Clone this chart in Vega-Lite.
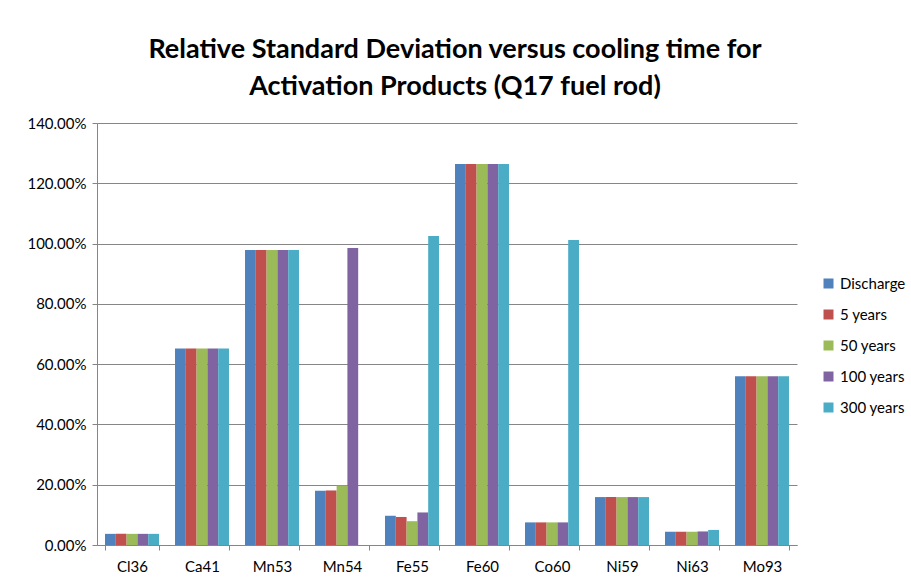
{
  "$schema": "https://vega.github.io/schema/vega-lite/v6.json",
  "width": 700,
  "height": 422,
  "autosize": {"type": "none"},
  "padding": {"left": 97, "top": 123, "right": 114, "bottom": 35},
  "background": "white",
  "title": {
    "text": ["Relative Standard Deviation versus cooling time for", "Activation Products (Q17 fuel rod)"],
    "font": "Lato",
    "fontSize": 27,
    "fontWeight": "bold",
    "color": "#000000",
    "anchor": "middle",
    "lineHeight": 37,
    "offset": 15,
    "dx": 8
  },
  "config": {
    "view": {"stroke": null},
    "font": "Lato",
    "axis": {"labelFont": "Lato", "labelFontSize": 15, "labelColor": "#000000", "domainColor": "#868686", "tickColor": "#868686", "gridColor": "#868686"},
    "legend": {"labelFont": "Lato", "labelFontSize": 15, "labelColor": "#000000"}
  },
  "data": {
    "values": [
      {"nuclide": "Cl36", "time": "Discharge", "rsd": 0.037},
      {"nuclide": "Cl36", "time": "5 years", "rsd": 0.037},
      {"nuclide": "Cl36", "time": "50 years", "rsd": 0.037},
      {"nuclide": "Cl36", "time": "100 years", "rsd": 0.037},
      {"nuclide": "Cl36", "time": "300 years", "rsd": 0.037},
      {"nuclide": "Ca41", "time": "Discharge", "rsd": 0.652},
      {"nuclide": "Ca41", "time": "5 years", "rsd": 0.652},
      {"nuclide": "Ca41", "time": "50 years", "rsd": 0.652},
      {"nuclide": "Ca41", "time": "100 years", "rsd": 0.652},
      {"nuclide": "Ca41", "time": "300 years", "rsd": 0.652},
      {"nuclide": "Mn53", "time": "Discharge", "rsd": 0.979},
      {"nuclide": "Mn53", "time": "5 years", "rsd": 0.979},
      {"nuclide": "Mn53", "time": "50 years", "rsd": 0.979},
      {"nuclide": "Mn53", "time": "100 years", "rsd": 0.979},
      {"nuclide": "Mn53", "time": "300 years", "rsd": 0.979},
      {"nuclide": "Mn54", "time": "Discharge", "rsd": 0.180},
      {"nuclide": "Mn54", "time": "5 years", "rsd": 0.181},
      {"nuclide": "Mn54", "time": "50 years", "rsd": 0.197},
      {"nuclide": "Mn54", "time": "100 years", "rsd": 0.985},
      {"nuclide": "Fe55", "time": "Discharge", "rsd": 0.097},
      {"nuclide": "Fe55", "time": "5 years", "rsd": 0.093},
      {"nuclide": "Fe55", "time": "50 years", "rsd": 0.079},
      {"nuclide": "Fe55", "time": "100 years", "rsd": 0.108},
      {"nuclide": "Fe55", "time": "300 years", "rsd": 1.025},
      {"nuclide": "Fe60", "time": "Discharge", "rsd": 1.264},
      {"nuclide": "Fe60", "time": "5 years", "rsd": 1.264},
      {"nuclide": "Fe60", "time": "50 years", "rsd": 1.264},
      {"nuclide": "Fe60", "time": "100 years", "rsd": 1.264},
      {"nuclide": "Fe60", "time": "300 years", "rsd": 1.264},
      {"nuclide": "Co60", "time": "Discharge", "rsd": 0.075},
      {"nuclide": "Co60", "time": "5 years", "rsd": 0.075},
      {"nuclide": "Co60", "time": "50 years", "rsd": 0.075},
      {"nuclide": "Co60", "time": "100 years", "rsd": 0.075},
      {"nuclide": "Co60", "time": "300 years", "rsd": 1.012},
      {"nuclide": "Ni59", "time": "Discharge", "rsd": 0.159},
      {"nuclide": "Ni59", "time": "5 years", "rsd": 0.159},
      {"nuclide": "Ni59", "time": "50 years", "rsd": 0.159},
      {"nuclide": "Ni59", "time": "100 years", "rsd": 0.159},
      {"nuclide": "Ni59", "time": "300 years", "rsd": 0.159},
      {"nuclide": "Ni63", "time": "Discharge", "rsd": 0.044},
      {"nuclide": "Ni63", "time": "5 years", "rsd": 0.044},
      {"nuclide": "Ni63", "time": "50 years", "rsd": 0.044},
      {"nuclide": "Ni63", "time": "100 years", "rsd": 0.045},
      {"nuclide": "Ni63", "time": "300 years", "rsd": 0.050},
      {"nuclide": "Mo93", "time": "Discharge", "rsd": 0.560},
      {"nuclide": "Mo93", "time": "5 years", "rsd": 0.560},
      {"nuclide": "Mo93", "time": "50 years", "rsd": 0.560},
      {"nuclide": "Mo93", "time": "100 years", "rsd": 0.560},
      {"nuclide": "Mo93", "time": "300 years", "rsd": 0.560}
    ]
  },
  "mark": {"type": "bar"},
  "encoding": {
    "x": {
      "field": "nuclide",
      "type": "nominal",
      "sort": ["Cl36", "Ca41", "Mn53", "Mn54", "Fe55", "Fe60", "Co60", "Ni59", "Ni63", "Mo93"],
      "scale": {"paddingInner": 0.229, "paddingOuter": 0.1145},
      "axis": {"title": null, "labelAngle": 0, "tickBand": "extent", "tickSize": 5, "labelPadding": 9, "grid": false, "domainColor": "#868686"}
    },
    "xOffset": {
      "field": "time",
      "type": "nominal",
      "sort": ["Discharge", "5 years", "50 years", "100 years", "300 years"],
      "scale": {"paddingInner": 0, "paddingOuter": 0}
    },
    "y": {
      "field": "rsd",
      "type": "quantitative",
      "scale": {"domain": [0, 1.4], "nice": false},
      "axis": {"title": null, "format": ".2%", "values": [0, 0.2, 0.4, 0.6, 0.8, 1.0, 1.2, 1.4], "tickSize": 5, "labelPadding": 6, "grid": true}
    },
    "color": {
      "field": "time",
      "type": "nominal",
      "sort": ["Discharge", "5 years", "50 years", "100 years", "300 years"],
      "scale": {"domain": ["Discharge", "5 years", "50 years", "100 years", "300 years"], "range": ["#4F81BD", "#C0504D", "#9BBB59", "#8064A2", "#4BACC6"]},
      "legend": {"title": null, "orient": "none", "legendX": 724, "legendY": 153, "symbolType": "square", "symbolSize": 100, "symbolStrokeWidth": 0, "rowPadding": 15, "labelOffset": 4}
    }
  }
}
